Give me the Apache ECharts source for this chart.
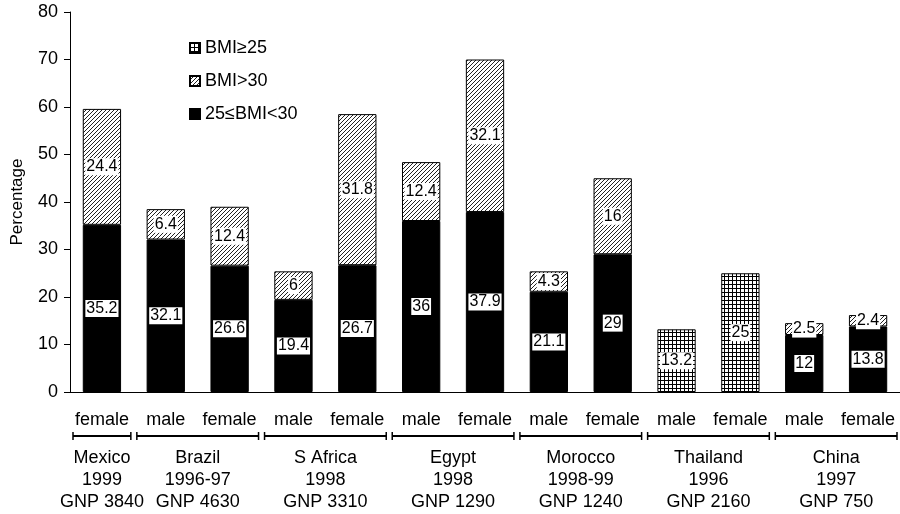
<!DOCTYPE html>
<html>
<head>
<meta charset="utf-8">
<script src="https://cdn.jsdelivr.net/npm/echarts@6/dist/echarts.min.js"></script>
<style>
  html, body { margin: 0; padding: 0; background: #fff; }
  #chart { width: 900px; height: 514px; }
</style>
</head>
<body>
<div id="chart"></div>
<script>
// categories (one per bar)
var genders = ['female', 'male', 'female', 'male', 'female', 'male', 'female',
  'male', 'female', 'male', 'female', 'male', 'female'];
// series values
var bmi25to30 = [35.2, 32.1, 26.6, 19.4, 26.7, 36, 37.9, 21.1, 29, '-', '-', 12, 13.8];
var bmiOver30 = [24.4, 6.4, 12.4, 6, 31.8, 12.4, 32.1, 4.3, 16, '-', '-', 2.5, 2.4];
var bmiAtLeast25 = ['-', '-', '-', '-', '-', '-', '-', '-', '-', 13.2, 25, '-', '-'];
// country groups under the axis
var countries = ['Mexico', 'Brazil', 'S Africa', 'Egypt', 'Morocco', 'Thailand', 'China'];
var years = ['1999', '1996-97', '1998', '1998', '1998-99', '1996', '1997'];
var gnp = ['GNP 3840', 'GNP 4630', 'GNP 3310', 'GNP 1290', 'GNP 1240', 'GNP 2160', 'GNP 750'];
var groupStart = [0, 1, 3, 5, 7, 9, 11];
var groupEnd = [0, 2, 4, 6, 8, 10, 12];

var font = 'Liberation Sans, Arial, sans-serif';

// fill patterns
function hatch() {
  var c = document.createElement('canvas');
  c.width = 4; c.height = 4;
  var g = c.getContext('2d');
  g.fillStyle = '#fff';
  g.fillRect(0, 0, 4, 4);
  g.strokeStyle = '#222';
  g.lineWidth = 1;
  g.beginPath();
  g.moveTo(0, 4); g.lineTo(4, 0);
  g.moveTo(-1, 1); g.lineTo(1, -1);
  g.moveTo(3, 5); g.lineTo(5, 3);
  g.stroke();
  return c;
}
function grid() {
  var c = document.createElement('canvas');
  c.width = 4; c.height = 4;
  var g = c.getContext('2d');
  g.fillStyle = '#fff';
  g.fillRect(0, 0, 4, 4);
  g.fillStyle = '#000';
  g.fillRect(0, 0, 4, 1);
  g.fillRect(0, 0, 1, 4);
  return c;
}

var valueLabel = {
  show: true,
  position: 'inside',
  color: '#000',
  fontFamily: font,
  fontSize: 16,
  backgroundColor: '#fff',
  padding: [1, 1, 0, 1]
};

function renderGroups(params, api) {
  var i = params.dataIndex;
  var band = api.size([1, 0])[0];
  var x0 = api.coord([groupStart[i], 0])[0] - band / 2 + 3;
  var x1 = api.coord([groupEnd[i], 0])[0] + band / 2 - 3;
  var y0 = api.coord([0, 0])[1];
  var by = y0 + 44;
  var cx = (x0 + x1) / 2;
  var txt = function (s, y) {
    return {
      type: 'text',
      style: {
        text: s, x: cx, y: y, fill: '#000',
        font: '18px ' + font, align: 'center', verticalAlign: 'middle'
      }
    };
  };
  return {
    type: 'group',
    children: [
      { type: 'line', shape: { x1: x0, y1: by, x2: x1, y2: by }, style: { stroke: '#000', lineWidth: 2 } },
      { type: 'line', shape: { x1: x0, y1: by - 4, x2: x0, y2: by + 4 }, style: { stroke: '#000', lineWidth: 1.5 } },
      { type: 'line', shape: { x1: x1, y1: by - 4, x2: x1, y2: by + 4 }, style: { stroke: '#000', lineWidth: 1.5 } },
      txt(countries[i], y0 + 66),
      txt(years[i], y0 + 88),
      txt(gnp[i], y0 + 110)
    ]
  };
}

var chart = echarts.init(document.getElementById('chart'));
chart.setOption({
  animation: false,
  textStyle: { fontFamily: font },
  grid: { left: 70, right: 0, top: 12, bottom: 122 },
  legend: {
    data: ['BMI≥25', 'BMI>30', '25≤BMI<30'],
    orient: 'vertical',
    left: 184,
    top: 34,
    icon: 'rect',
    itemWidth: 10,
    itemHeight: 10,
    itemGap: 15,
    textStyle: { fontSize: 18, color: '#000', fontFamily: font }
  },
  xAxis: {
    type: 'category',
    data: genders,
    axisLine: { lineStyle: { color: '#000', width: 1 } },
    axisTick: { length: 6, lineStyle: { color: '#000' } },
    axisLabel: { color: '#000', fontSize: 18, margin: 19, interval: 0, fontFamily: font }
  },
  yAxis: {
    type: 'value',
    min: 0,
    max: 80,
    interval: 10,
    name: 'Percentage',
    nameLocation: 'middle',
    nameGap: 44,
    nameTextStyle: { color: '#000', fontSize: 17, fontFamily: font },
    axisLine: { show: true, lineStyle: { color: '#000', width: 1 } },
    axisTick: { show: true, length: 6, lineStyle: { color: '#000' } },
    axisLabel: { color: '#000', fontSize: 18, margin: 12, fontFamily: font },
    splitLine: { show: false }
  },
  series: [
    {
      name: '25≤BMI<30',
      type: 'bar',
      stack: 'bmi',
      barWidth: '60%',
      data: bmi25to30,
      itemStyle: { color: '#000', borderColor: '#000', borderWidth: 1 },
      label: valueLabel
    },
    {
      name: 'BMI>30',
      type: 'bar',
      stack: 'bmi',
      data: bmiOver30,
      itemStyle: { color: { image: hatch(), repeat: 'repeat' }, borderColor: '#000', borderWidth: 1 },
      label: valueLabel
    },
    {
      name: 'BMI≥25',
      type: 'bar',
      stack: 'bmi',
      data: bmiAtLeast25,
      itemStyle: { color: { image: grid(), repeat: 'repeat' }, borderColor: '#000', borderWidth: 1 },
      label: valueLabel
    },
    {
      type: 'custom',
      silent: true,
      clip: false,
      renderItem: renderGroups,
      data: groupStart.map(function (s) { return [s, 0]; })
    }
  ]
});
</script>
</body>
</html>
